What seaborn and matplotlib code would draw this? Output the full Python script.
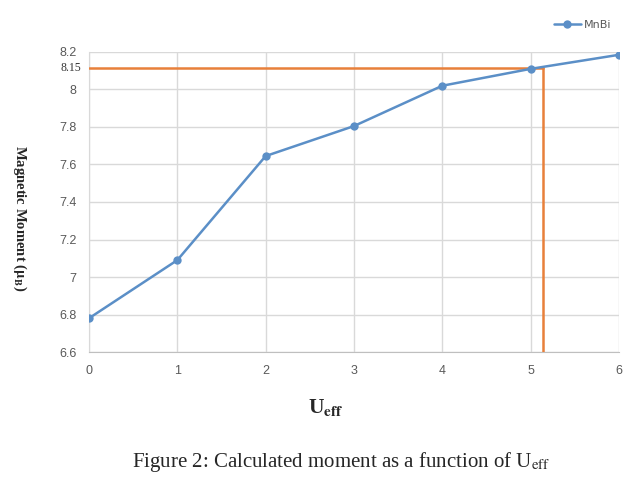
import matplotlib
matplotlib.use("Agg")
import matplotlib.pyplot as plt
import pandas as pd
import seaborn as sns

# dados
u_eff = [0, 1, 2, 3, 4, 5, 6]
moment = [6.78, 7.09, 7.645, 7.805, 8.02, 8.11, 8.185]
y_ticks = [6.6, 6.8, 7.0, 7.2, 7.4, 7.6, 7.8, 8.0, 8.2]
y_tick_labels = ['6.6', '6.8', '7', '7.2', '7.4', '7.6', '7.8', '8', '8.2']
x_ticks = [0, 1, 2, 3, 4, 5, 6]
marca_y = 8.115
marca_y_label = '8.15'
marca_x = 5.14

df = pd.DataFrame({'Ueff': u_eff, 'MnBi': moment})

sns.set_style("white")
plt.rcParams['mathtext.fontset'] = 'stix'

fig = plt.figure(figsize=(6.37, 4.84), dpi=100)
ax = fig.add_axes([0.1397, 0.2727, 0.832, 0.6199])

azul = '#5B8FC7'
laranja = '#E8803A'

# linhas de referência
ax.plot([0, marca_x], [marca_y, marca_y], color=laranja, linewidth=1.8, zorder=3)
ax.plot([marca_x, marca_x], [6.6, marca_y], color=laranja, linewidth=1.8, zorder=3)

sns.lineplot(x='Ueff', y='MnBi', data=df, ax=ax, color=azul, marker='o',
             markersize=6, markeredgewidth=0, linewidth=1.8, label='MnBi', zorder=4)

ax.set_xlim(0, 6)
ax.set_ylim(6.6, 8.2)
ax.set_xticks(x_ticks)
ax.set_xticklabels([str(t) for t in x_ticks], fontsize=9, color='#595959',
                   family='Liberation Sans')
ax.set_yticks(y_ticks)
ax.set_yticklabels(y_tick_labels, fontsize=9, color='#595959', family='Liberation Sans')
ax.tick_params(axis='both', length=0, pad=9)
ax.text(-0.014, marca_y, marca_y_label, transform=ax.get_yaxis_transform(),
        ha='right', va='center', fontsize=8.5, family='Liberation Serif', color='#333333')

ax.grid(True, color='#D9D9D9', linewidth=1)
for lado in ['top', 'right']:
    ax.spines[lado].set_visible(False)
ax.spines['left'].set_color('#D9D9D9')
ax.spines['bottom'].set_color('#BFBFBF')

ax.set_xlabel('')
ax.set_ylabel('')
fig.text(0.031, 0.55, r'Magnetic Moment ($\mathbf{\mu_B}$)', rotation=270,
         ha='center', va='center', fontsize=10.5, fontweight='bold', family='Liberation Serif')
fig.text(0.512, 0.159, r'U$_{\mathbf{eff}}$', ha='center', va='center',
         fontsize=15.5, fontweight='bold', family='Liberation Serif')
fig.text(0.535, 0.046, r'Figure 2: Calculated moment as a function of U$_{\mathrm{eff}}$',
         ha='center', va='center', fontsize=15, family='Liberation Serif')

leg = ax.legend(loc='center', bbox_to_anchor=(0.915, 0.948), bbox_transform=fig.transFigure,
                frameon=False, fontsize=8, handlelength=2.4, handletextpad=0.3)
for t in leg.get_texts():
    t.set_color('#595959')

fig.savefig('out.png', dpi=100)
